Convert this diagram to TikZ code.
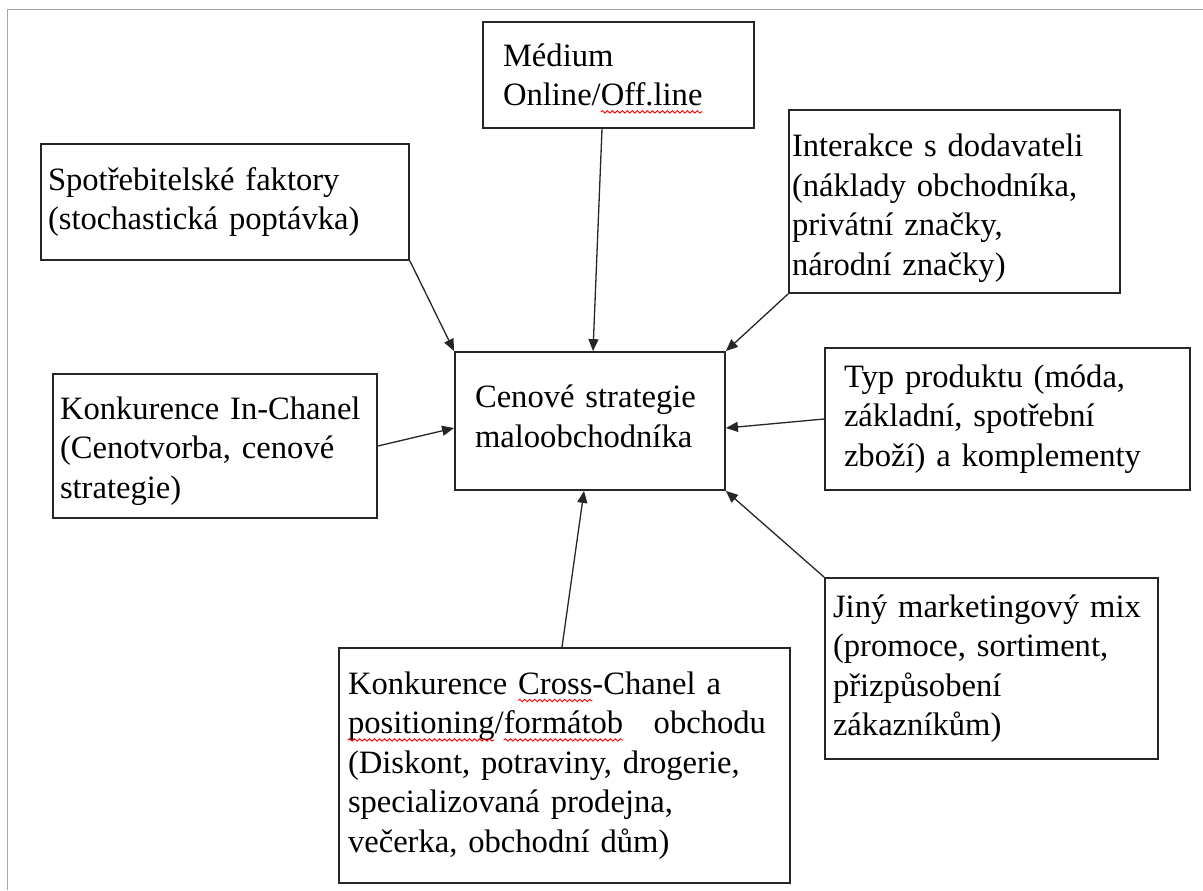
\documentclass[tikz,border=0pt]{standalone}
\usepackage{fontspec}
\setmainfont{Liberation Serif}[WordSpace=1.5]
\usetikzlibrary{arrows.meta,calc,decorations.pathmorphing}
\newlength\spellwd
\newcommand\spellwave[1]{\settowidth\spellwd{#1}#1\tikz[overlay,baseline=0pt]\draw [red, line width=0.45pt, decorate, decoration={snake,amplitude=0.6pt,segment length=2.5pt}] (-\spellwd,-3pt) -- (0pt,-3pt);}

\begin{document}
\begin{tikzpicture}[x=5pt,y=5pt]
	\tikzstyle{factor}=[draw=black!85, line width=0.9pt, rectangle, align=left, inner ysep=0pt, font={\fontsize{16.3}{19.7}\selectfont}]
	\tikzstyle{effect}=[draw=black!85, line width=0.65pt, -{Triangle[length=6pt,width=5pt]}]
	\useasboundingbox (0,0) rectangle (120.3,-89);
	\draw [gray!70, line width=0.5pt] (120.3,-0.9) -- (0.7,-0.9) -- (0.7,-89);
	\node [factor, minimum width=135.5pt, minimum height=53pt, inner xsep=10pt, text width=115.5pt] (medium) at (61.85,-7.5) {Médium\\Online/\spellwave{Off.line}};
	\node [factor, minimum width=184pt, minimum height=58pt, inner xsep=3.5pt, text width=177pt] (spot) at (22.5,-20.2) {Spotřebitelské faktory\\(stochastická poptávka)};
	\node [factor, minimum width=165.5pt, minimum height=91.5pt, inner xsep=1.5pt, text width=162.5pt] (inter) at (95.45,-20.15) {\rule{0pt}{18pt}Interakce s dodavateli\\(náklady obchodníka,\\privátní značky,\\národní značky)};
	\node [factor, minimum width=135pt, minimum height=69pt, inner xsep=10pt, text width=115pt] (price) at (59,-42.1) {Cenové strategie\\maloobchodníka\rule[-5pt]{0pt}{1pt}};
	\node [factor, minimum width=162pt, minimum height=72pt, inner xsep=3.5pt, text width=155pt] (inch) at (21.5,-44.6) {\rule{0pt}{16.5pt}Konkurence In-Chanel\\(Cenotvorba, cenové\\strategie)};
	\node [factor, minimum width=182.5pt, minimum height=71pt, inner xsep=9.5pt, text width=163.5pt] (typ) at (100.75,-41.9) {Typ produktu (móda,\\základní, spotřební\\zboží) a komplementy};
	\node [factor, minimum width=166.5pt, minimum height=90.5pt, inner xsep=4pt, text width=158.5pt] (jiny) at (99.15,-66.85) {Jiný marketingový mix\\(promoce, sortiment,\\přizpůsobení\\zákazníkům)};
	\node [factor, minimum width=225.5pt, minimum height=117.5pt, inner xsep=4.5pt, text width=216.5pt] (cross) at (56.45,-76.55) {Konkurence \spellwave{Cross}-Chanel a\\\spellwave{positioning}/\spellwave{formátob}\hspace{0.6em} obchodu\\(Diskont, potraviny, drogerie,\\specializovaná prodejna,\\večerka, obchodní dům)};
	\draw [effect] (spot.south east) -- (price.north west);
	\draw [effect] ($(medium.south)+(-1.65,0)$) -- ($(price.north)+(0.3,0)$);
	\draw [effect] (inter.south west) -- (price.north east);
	\draw [effect] (inch.east) -- ($(price.west)+(0,-0.7)$);
	\draw [effect] (typ.west) -- ($(price.east)+(0,-0.7)$);
	\draw [effect] (jiny.north west) -- (price.south east);
	\draw [effect] ($(cross.north)+(-0.25,0)$) -- ($(price.south)+(-0.6,0)$);
\end{tikzpicture}
\end{document}
